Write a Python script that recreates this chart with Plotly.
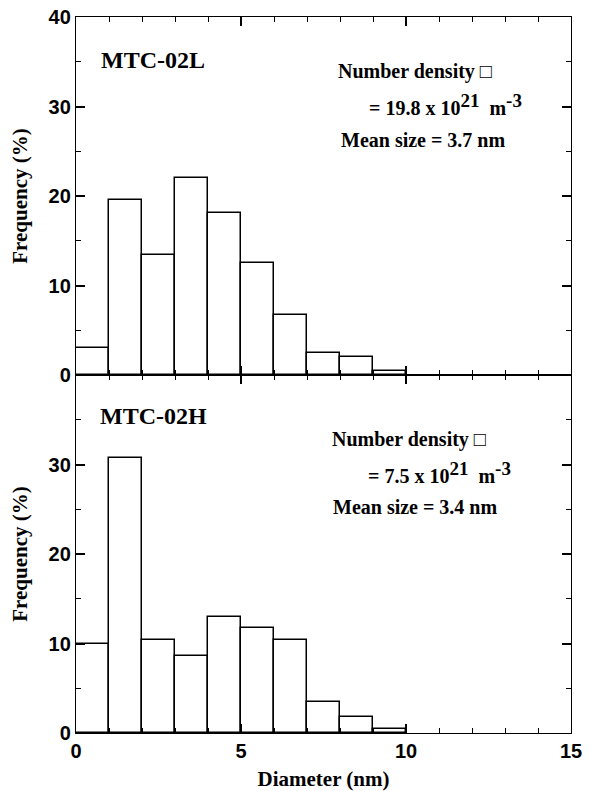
import plotly.graph_objects as go
from plotly.subplots import make_subplots

# Data
bin_left = [0, 1, 2, 3, 4, 5, 6, 7, 8, 9]
bin_width = 1.0
freq_02L = [3.0, 19.6, 13.4, 22.0, 18.1, 12.5, 6.7, 2.5, 2.0, 0.5]
freq_02H = [10.0, 30.7, 10.4, 8.6, 13.0, 11.7, 10.4, 3.5, 1.8, 0.5]
labels = ["MTC-02L", "MTC-02H"]
densities = ["19.8", "7.5"]
mean_sizes = ["3.7", "3.4"]

centers = [b + bin_width / 2 for b in bin_left]

fig = make_subplots(rows=2, cols=1, shared_xaxes=True, vertical_spacing=0)

for r, vals in ((1, freq_02L), (2, freq_02H)):
    fig.add_trace(go.Bar(x=centers, y=vals, width=bin_width,
                         marker=dict(color="white", line=dict(color="black", width=1.5)),
                         showlegend=False), row=r, col=1)

tickfont = dict(family="Liberation Sans", size=20, color="black", weight="bold")
serif = dict(family="Liberation Serif", size=21, color="black", weight="bold")

common_x = dict(range=[0, 15], showline=True, linecolor="black", linewidth=1.3,
                mirror="ticks", ticks="inside", ticklen=9, tickwidth=1.5, tickcolor="black",
                dtick=5, tick0=0, showgrid=False, zeroline=False, automargin=False,
                minor=dict(ticks="inside", dtick=1, ticklen=5, tickwidth=1.2, tickcolor="black"))
common_y = dict(range=[0, 40], showline=True, linecolor="black", linewidth=1.3,
                mirror="ticks", ticks="inside", ticklen=9, tickwidth=1.5, tickcolor="black",
                showgrid=False, zeroline=False, tickfont=tickfont, automargin=False,
                minor=dict(ticks="inside", dtick=5, ticklen=5, tickwidth=1.2, tickcolor="black"),
                title=dict(text="Frequency (%)", font=serif, standoff=15))

fig.update_xaxes(**common_x, showticklabels=False, row=1, col=1)
fig.update_xaxes(**common_x, tickfont=tickfont,
                 title=dict(text="Diameter (nm)", font=serif, standoff=14), row=2, col=1)
fig.update_yaxes(**common_y, tickvals=[0, 10, 20, 30, 40], row=1, col=1)
fig.update_yaxes(**common_y, tickvals=[0, 10, 20, 30], row=2, col=1)

ann_font = dict(family="Liberation Serif", size=20, color="black", weight="bold")
title_font = dict(family="Liberation Serif", size=24, color="black", weight="bold")
positions = [
    # (xref, yref, label pos, line1, line2, line3)
    ("x", "y", (0.70, 35.2), (7.88, 33.9), (8.82, 30.2), (7.98, 26.3)),
    ("x2", "y2", (0.68, 35.4), (7.70, 32.8), (8.79, 29.1), (7.74, 25.3)),
]
for i, (xr, yr, p0, p1, p2, p3) in enumerate(positions):
    fig.add_annotation(x=p0[0], y=p0[1], xref=xr, yref=yr, text=labels[i],
                       showarrow=False, xanchor="left", yanchor="middle", font=title_font)
    fig.add_annotation(x=p1[0], y=p1[1], xref=xr, yref=yr, text="Number density \u25a1",
                       showarrow=False, xanchor="left", yanchor="middle", font=ann_font)
    fig.add_annotation(x=p2[0], y=p2[1], xref=xr, yref=yr,
                       text=(f"= {densities[i]} x 10<sup><span style='font-size:19px'>21</span></sup>"
                             f"  m<sup><span style='font-size:19px'>-3</span></sup>"),
                       showarrow=False, xanchor="left", yanchor="middle", font=ann_font)
    fig.add_annotation(x=p3[0], y=p3[1], xref=xr, yref=yr,
                       text=f"Mean size = {mean_sizes[i]} nm",
                       showarrow=False, xanchor="left", yanchor="middle", font=ann_font)

fig.update_layout(width=591, height=791, margin=dict(l=76, r=20, t=17, b=58),
                  plot_bgcolor="white", paper_bgcolor="white", bargap=0)

fig.write_html("out.html")
